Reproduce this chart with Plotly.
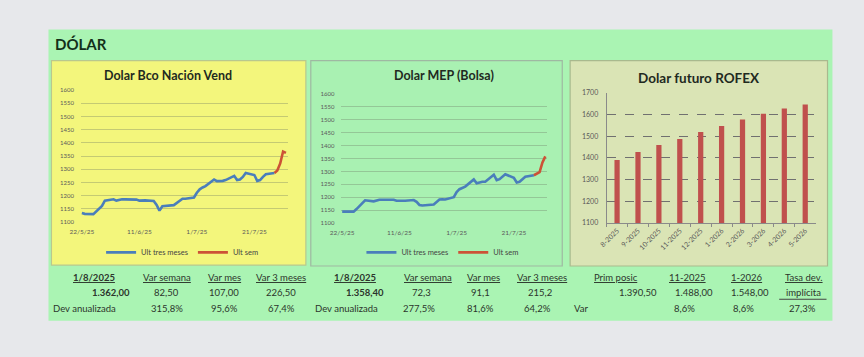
import plotly.graph_objects as go

W, H = 864, 357

# ---------------- data ----------------
bna_dates = ["2025-05-22", "2025-05-23", "2025-05-26", "2025-05-27", "2025-05-28", "2025-05-29", "2025-05-30",
             "2025-06-02", "2025-06-03", "2025-06-04", "2025-06-05", "2025-06-06", "2025-06-09", "2025-06-10",
             "2025-06-11", "2025-06-12", "2025-06-13", "2025-06-16", "2025-06-17", "2025-06-18", "2025-06-19",
             "2025-06-23", "2025-06-24", "2025-06-25", "2025-06-26", "2025-06-27", "2025-06-30", "2025-07-01",
             "2025-07-02", "2025-07-03", "2025-07-04", "2025-07-07", "2025-07-08", "2025-07-10", "2025-07-11",
             "2025-07-14", "2025-07-15", "2025-07-16", "2025-07-17", "2025-07-18", "2025-07-21", "2025-07-22",
             "2025-07-23", "2025-07-24", "2025-07-25", "2025-07-28"]
bna_vals = [1134, 1131, 1130, 1140, 1152, 1161, 1181,
            1186, 1181, 1185, 1186, 1186, 1186, 1185,
            1181, 1182, 1182, 1180, 1165, 1143, 1160,
            1164, 1171, 1181, 1188, 1188, 1193, 1211,
            1224, 1231, 1236, 1261, 1255, 1256, 1259,
            1275, 1259, 1261, 1271, 1286, 1278, 1256,
            1259, 1271, 1281, 1286]
bna_week_dates = ["2025-07-28", "2025-07-29", "2025-07-30", "2025-07-31", "2025-08-01"]
bna_week_vals = [1286, 1295, 1322, 1367, 1362]

mep_dates = bna_dates
mep_vals = [1144, 1144, 1144, 1154, 1164, 1175, 1188,
            1184, 1188, 1190, 1190, 1190, 1190, 1186,
            1185, 1185, 1186, 1189, 1182, 1170, 1168,
            1172, 1182, 1191, 1192, 1191, 1200, 1220,
            1231, 1235, 1241, 1269, 1254, 1260, 1260,
            1287, 1266, 1270, 1279, 1289, 1275, 1257,
            1260, 1269, 1279, 1285]
mep_week_dates = bna_week_dates
mep_week_vals = [1285, 1291, 1297, 1335, 1358]

rofex_months = ["8-2025", "9-2025", "10-2025", "11-2025", "12-2025",
                "1-2026", "2-2026", "3-2026", "4-2026", "5-2026"]
rofex_vals = [1390.5, 1428, 1460, 1488, 1520, 1548, 1578, 1604, 1628, 1647]

date_tickvals = ["2025-05-22", "2025-06-11", "2025-07-01", "2025-07-21"]
date_ticktext = ["22/5/25", "11/6/25", "1/7/25", "21/7/25"]

series_names = ["Ult tres meses", "Ult sem"]

bna_table = [["1/8/2025", "Var semana", "Var mes", "Var 3 meses"],
             ["1.362,00", "82,50", "107,00", "226,50"],
             ["Dev anualizada", "315,8%", "95,6%", "67,4%"]]
mep_table = [["1/8/2025", "Var semana", "Var mes", "Var 3 meses"],
             ["1.358,40", "72,3", "91,1", "215,2"],
             ["Dev anualizada", "277,5%", "81,6%", "64,2%"]]
rofex_table = [["Prim posic", "11-2025", "1-2026", "Tasa dev."],
               ["1.390,50", "1.488,00", "1.548,00", "implícita"],
               ["Var", "8,6%", "8,6%", "27,3%"]]

# ---------------- style ----------------
FONT = "Lato"
BLUE = "#4A7EBB"
RED = "#CC5236"
BAR = "#C0504D"
TXT = "#2c352c"
TICK = "#5a5a5a"

def px(x):
    return x / W

def py(y):
    return 1 - y / H

fig = go.Figure()

fig.add_trace(go.Scatter(x=bna_dates, y=bna_vals, mode="lines", name=series_names[0],
                         line=dict(color=BLUE, width=2.6), xaxis="x", yaxis="y", legend="legend"))
fig.add_trace(go.Scatter(x=bna_week_dates, y=bna_week_vals, mode="lines", name=series_names[1],
                         line=dict(color=RED, width=2.6), xaxis="x", yaxis="y", legend="legend"))
fig.add_trace(go.Scatter(x=mep_dates, y=mep_vals, mode="lines", name=series_names[0],
                         line=dict(color=BLUE, width=2.6), xaxis="x2", yaxis="y2", legend="legend2"))
fig.add_trace(go.Scatter(x=mep_week_dates, y=mep_week_vals, mode="lines", name=series_names[1],
                         line=dict(color=RED, width=2.6), xaxis="x2", yaxis="y2", legend="legend2"))
fig.add_trace(go.Bar(x=rofex_months, y=rofex_vals, marker=dict(color=BAR, line=dict(width=0)),
                     xaxis="x3", yaxis="y3", showlegend=False))

xr = ["2025-05-21 17:00", "2025-08-01 18:00"]
grid_line = "rgba(110,120,100,0.35)"
date_x = dict(type="date", range=xr, tickvals=date_tickvals, ticktext=date_ticktext,
              showgrid=False, zeroline=False, showline=False, ticks="",
              tickfont=dict(family=FONT, size=6.5, color=TICK), ticklabelstandoff=4, fixedrange=True)
line_y = dict(range=[1100, 1600], dtick=50, showgrid=True, gridcolor=grid_line, gridwidth=1,
              zeroline=False, showline=False, ticks="",
              tickfont=dict(family=FONT, size=6, color=TICK), ticklabelstandoff=6)

fig.update_layout(
    width=W, height=H, margin=dict(l=0, r=0, t=0, b=0),
    paper_bgcolor="#e7e8eb", plot_bgcolor="rgba(0,0,0,0)",
    font=dict(family=FONT, color=TXT),
    bargap=0.75,
    xaxis=dict(domain=[px(70), px(280)], anchor="y", **date_x),
    yaxis=dict(domain=[py(222), py(87)], anchor="x", **line_y),
    xaxis2=dict(domain=[px(334), px(543)], anchor="y2", **date_x),
    yaxis2=dict(domain=[py(223), py(91)], anchor="x2", **line_y),
    xaxis3=dict(domain=[px(603), px(815)], anchor="y3", type="category", range=[-0.5, 9.5],
                showgrid=False, zeroline=False, showline=True, linecolor="#8a8a8a", linewidth=1,
                ticks="outside", ticklen=3, tickcolor="#8a8a8a", tickson="boundaries",
                tickangle=-45, tickfont=dict(family=FONT, size=7, color=TICK)),
    yaxis3=dict(domain=[py(223), py(90)], anchor="x3", range=[1100, 1700], dtick=100,
                showgrid=True, gridcolor="#707070", griddash="dash", gridwidth=1,
                zeroline=False, showline=True, linecolor="#8a8a8a", linewidth=1, ticks="",
                tickfont=dict(family=FONT, size=7, color=TICK), ticklabelstandoff=6),
    legend=dict(x=px(173), y=py(253), xanchor="center", yanchor="middle", orientation="h",
                bgcolor="rgba(0,0,0,0)", font=dict(family=FONT, size=7.5, color="#444"),
                itemwidth=30, tracegroupgap=0),
    legend2=dict(x=px(437), y=py(253), xanchor="center", yanchor="middle", orientation="h",
                 bgcolor="rgba(0,0,0,0)", font=dict(family=FONT, size=7.5, color="#444"),
                 itemwidth=30, tracegroupgap=0),
)

shapes = []
def rect(x0, y0, x1, y1, fill, line_color=None, lw=0):
    shapes.append(dict(type="rect", xref="paper", yref="paper", layer="below",
                       x0=px(x0), x1=px(x1), y0=py(y1), y1=py(y0), fillcolor=fill,
                       line=dict(color=line_color or fill, width=lw)))

rect(37, 25, 832, 323, "#AAF4B3")
rect(40, 57, 298, 266, "#F3F67C", "#b9c88e", 1.2)
rect(303, 57, 558, 267, "#A9F1B2", "#9fb8a2", 1.2)
rect(566, 57, 827, 267, "#DAE4B5", "#a9b98e", 1.2)
shapes.append(dict(type="line", xref="paper", yref="paper", x0=px(778), x1=px(826),
                   y0=py(301), y1=py(301), line=dict(color="#444", width=1)))
fig.update_layout(shapes=shapes)

ann = []
def text(x, y, s, size=9.5, bold=False, under=False, anchor="center", color=TXT):
    ann.append(dict(x=px(x), y=py(y), xref="paper", yref="paper", text=s, showarrow=False,
                    xanchor=anchor, yanchor="middle",
                    font=dict(family=FONT, size=size, color=color,
                              weight="bold" if bold else "normal",
                              lineposition="under" if under else "none")))

text(42, 40, "DÓLAR", size=15, bold=True, anchor="left", color="#13301a")
text(158, 72, "Dolar Bco Nación Vend", size=12.5, bold=True, color="#1f2a1f")
text(438, 72, "Dolar MEP (Bolsa)", size=12.5, bold=True, color="#1f2a1f")
text(697, 75, "Dolar futuro ROFEX", size=13.5, bold=True, color="#1f2a1f")

rows_y = [279, 294, 310]
# BNA table
cols = [83, 157, 215, 273]
for i, s in enumerate(bna_table[0]):
    text(cols[i], rows_y[0], s, bold=(i == 0), under=True)
text(122, rows_y[1], bna_table[1][0], bold=True, anchor="right")
for i in range(1, 4):
    text(cols[i], rows_y[1], bna_table[1][i])
text(40, rows_y[2], bna_table[2][0], anchor="left")
for i in range(1, 4):
    text(cols[i], rows_y[2], bna_table[2][i])
# MEP table
cols = [348, 422, 478, 537]
for i, s in enumerate(mep_table[0]):
    text(cols[i], rows_y[0], s, bold=(i == 0), under=True)
text(379, rows_y[1], mep_table[1][0], bold=True, anchor="right")
vcols = [None, 415, 475, 535]
for i in range(1, 4):
    text(vcols[i], rows_y[1], mep_table[1][i])
text(305, rows_y[2], mep_table[2][0], anchor="left")
vcols = [None, 413, 475, 533]
for i in range(1, 4):
    text(vcols[i], rows_y[2], mep_table[2][i])
# ROFEX table
cols = [612, 685, 745, 803]
for i, s in enumerate(rofex_table[0]):
    text(cols[i], rows_y[0], s, under=True)
vcols = [635, 692, 748, 803]
for i in range(4):
    text(vcols[i], rows_y[1], rofex_table[1][i])
text(568, rows_y[2], rofex_table[2][0], anchor="left")
vcols = [None, 682, 742, 802]
for i in range(1, 4):
    text(vcols[i], rows_y[2], rofex_table[2][i])

fig.update_layout(annotations=ann)
fig.write_html("out.html", config={"displayModeBar": False},
               post_script="document.body.style.margin='0';document.body.style.overflow='hidden';")
